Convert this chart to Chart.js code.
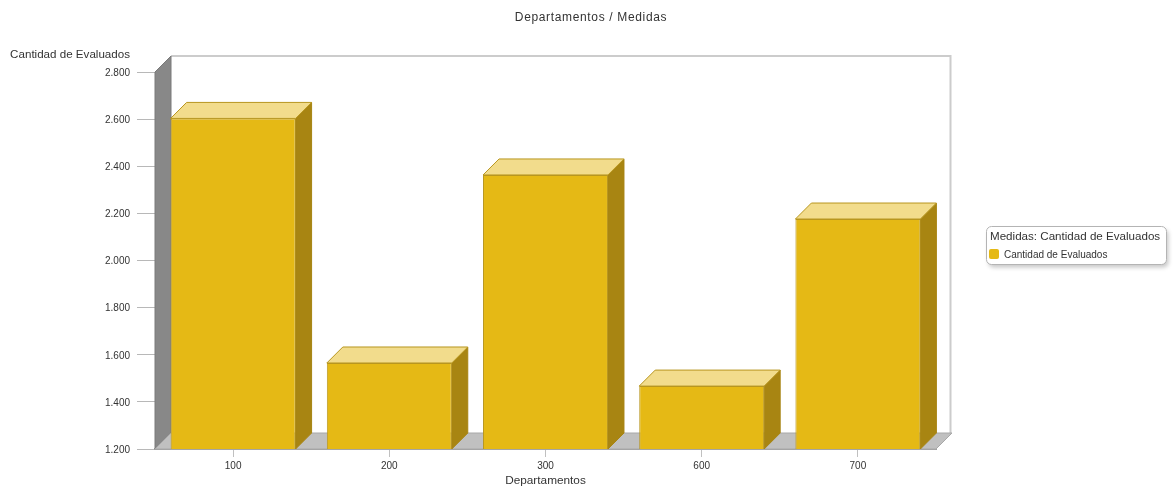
<!DOCTYPE html>
<html>
<head>
<meta charset="utf-8">
<title>Departamentos / Medidas</title>
<script src="https://cdn.jsdelivr.net/npm/chart.js@4"></script>
<style>
  html, body { margin: 0; padding: 0; background: #fff; }
  #grafica { display: block; }
</style>
</head>
<body>
<canvas id="grafica" width="1176" height="488"></canvas>
<script>
const departamentos = ['100', '200', '300', '600', '700'];
const evaluados = [2603, 1565, 2363, 1467, 2176];
const yTickLabels = ['1.200', '1.400', '1.600', '1.800', '2.000', '2.200', '2.400', '2.600', '2.800'];

const tituloGrafica = 'Departamentos / Medidas';
const tituloEjeY = 'Cantidad de Evaluados';
const tituloEjeX = 'Departamentos';
const tituloLeyenda = 'Medidas: Cantidad de Evaluados';
const nombreSerie = 'Cantidad de Evaluados';

const FUENTE = '"Liberation Sans", Arial, sans-serif';
const COLOR_TEXTO = '#333';
const PROF = 16; // profundidad del efecto 3D

const COLOR_BARRA = '#E5B915';
const COLOR_TAPA = '#F2DC8C';
const COLOR_LADO = '#A88512';
const COLOR_BORDE = '#B8961F';

function poligono(ctx, puntos, relleno, borde) {
  ctx.beginPath();
  puntos.forEach((p, i) => i ? ctx.lineTo(p[0], p[1]) : ctx.moveTo(p[0], p[1]));
  ctx.closePath();
  ctx.fillStyle = relleno;
  ctx.fill();
  if (borde) {
    ctx.strokeStyle = borde;
    ctx.lineWidth = 1;
    ctx.stroke();
  }
}

// baja un pixel las etiquetas del eje y
const ajusteEtiquetas = {
  id: 'ajusteEtiquetas',
  beforeDraw(chart) {
    const escala = chart.scales.y;
    if (escala.labelsMovidas) return;
    escala.labelsMovidas = true;
    const original = escala.drawLabels.bind(escala);
    escala.drawLabels = area => {
      chart.ctx.save();
      chart.ctx.translate(0, 1);
      original(area);
      chart.ctx.restore();
    };
  }
};

// paredes, piso y caras laterales de las barras
const fondo3d = {
  id: 'fondo3d',
  beforeDatasetsDraw(chart) {
    const { ctx, chartArea: a } = chart;
    ctx.save();

    ctx.strokeStyle = '#cccccc';
    ctx.lineWidth = 2;
    ctx.beginPath();
    ctx.moveTo(a.left + PROF, a.top - PROF);
    ctx.lineTo(a.right + PROF - 1.5, a.top - PROF);
    ctx.lineTo(a.right + PROF - 1.5, a.bottom - PROF);
    ctx.stroke();

    poligono(ctx, [[a.left, a.top], [a.left + PROF, a.top - PROF], [a.left + PROF, a.bottom - PROF], [a.left, a.bottom]], '#888888', '#7a7a7a');
    poligono(ctx, [[a.left, a.bottom], [a.left + PROF, a.bottom - PROF], [a.right + PROF, a.bottom - PROF], [a.right, a.bottom]], '#c0c0c0', '#a8a8a8');

    chart.getDatasetMeta(0).data.forEach(bar => {
      const izq = bar.x - bar.width / 2;
      const der = bar.x + bar.width / 2;
      const base = Math.min(bar.base, a.bottom);
      poligono(ctx, [[der, bar.y], [der + PROF, bar.y - PROF], [der + PROF, base - PROF], [der, base]], COLOR_LADO, COLOR_LADO);
      poligono(ctx, [[izq, bar.y], [izq + PROF, bar.y - PROF], [der + PROF, bar.y - PROF], [der, bar.y]], COLOR_TAPA, COLOR_BORDE);
    });
    ctx.restore();
  }
};

// titulos sueltos y caja de leyenda a la derecha
const textos = {
  id: 'textos',
  afterDraw(chart) {
    const { ctx } = chart;
    ctx.save();
    ctx.fillStyle = COLOR_TEXTO;
    ctx.textBaseline = 'middle';
    ctx.font = '12px ' + FUENTE;

    ctx.textAlign = 'center';
    ctx.letterSpacing = '0.65px';
    ctx.fillText(tituloGrafica, 591, 18);
    ctx.letterSpacing = '0px';
    ctx.textAlign = 'right';
    ctx.font = '11.6px ' + FUENTE;
    ctx.fillText(tituloEjeY, 130, 55);

    ctx.save();
    ctx.shadowColor = 'rgba(0,0,0,0.22)';
    ctx.shadowBlur = 4;
    ctx.shadowOffsetX = 2;
    ctx.shadowOffsetY = 3;
    ctx.beginPath();
    ctx.roundRect(986.5, 226.5, 180, 38, 5);
    ctx.fillStyle = '#fff';
    ctx.fill();
    ctx.restore();
    ctx.beginPath();
    ctx.roundRect(986.5, 226.5, 180, 38, 5);
    ctx.strokeStyle = '#b4b4b4';
    ctx.stroke();

    ctx.fillStyle = COLOR_TEXTO;
    ctx.textAlign = 'left';
    ctx.fillText(tituloLeyenda, 990, 237);
    ctx.font = '10px ' + FUENTE;
    ctx.fillText(nombreSerie, 1004, 255);
    ctx.beginPath();
    ctx.roundRect(989, 249, 10, 10, 2);
    ctx.fillStyle = COLOR_BARRA;
    ctx.fill();
    ctx.restore();
  }
};

new Chart(document.getElementById('grafica'), {
  type: 'bar',
  data: {
    labels: departamentos,
    datasets: [{
      label: nombreSerie,
      data: evaluados,
      backgroundColor: COLOR_BARRA,
      borderColor: COLOR_BORDE,
      borderWidth: 1,
      barPercentage: 0.8,
      categoryPercentage: 1
    }]
  },
  options: {
    responsive: false,
    animation: false,
    layout: { padding: { left: 0, top: 72, right: 240, bottom: 0 } },
    plugins: {
      legend: { display: false },
      title: { display: false },
      tooltip: { enabled: false }
    },
    scales: {
      x: {
        afterFit: scale => { scale.height = 39; },
        border: { display: true, color: '#a0a0a0', width: 2 },
        grid: { drawOnChartArea: false, offset: false, tickLength: 8, tickColor: '#c0c0c0' },
        ticks: { color: COLOR_TEXTO, padding: 3, maxRotation: 0, font: { family: FUENTE, size: 10 } },
        title: { display: true, text: tituloEjeX, color: COLOR_TEXTO, padding: { top: 0, bottom: 0 }, font: { family: FUENTE, size: 11.8 } }
      },
      y: {
        min: 1200,
        max: 2800,
        afterFit: scale => { scale.width = 155; },
        border: { display: false },
        grid: { drawOnChartArea: false, tickLength: 18, tickColor: '#b8b8b8' },
        ticks: {
          stepSize: 200,
          autoSkip: false,
          color: COLOR_TEXTO,
          padding: 7,
          font: { family: FUENTE, size: 10 },
          callback: (value, i) => yTickLabels[i]
        }
      }
    }
  },
  plugins: [ajusteEtiquetas, fondo3d, textos]
});
</script>
</body>
</html>
